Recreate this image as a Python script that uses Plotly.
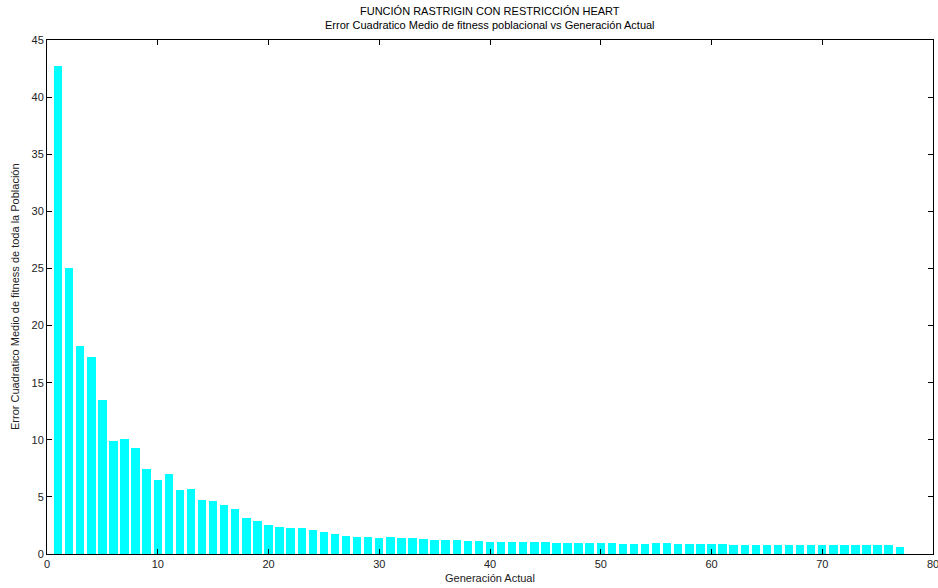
import plotly.graph_objects as go

# Mean squared error of population fitness per generation
generacion = list(range(1, 78))
error_cm = [
    42.76, 25.04, 18.2, 17.25, 13.5, 9.87, 10.04, 9.25, 7.47, 6.45,
    7.0, 5.63, 5.72, 4.7, 4.61, 4.29, 3.91, 3.18, 2.86, 2.54,
    2.38, 2.3, 2.25, 2.1, 1.93, 1.75, 1.6, 1.52, 1.52, 1.43,
    1.52, 1.43, 1.37, 1.28, 1.23, 1.23, 1.23, 1.14, 1.14, 1.08,
    1.08, 1.08, 1.08, 1.08, 1.08, 0.99, 0.99, 0.99, 0.99, 0.99,
    0.96, 0.88, 0.88, 0.88, 0.96, 0.96, 0.88, 0.88, 0.88, 0.88,
    0.88, 0.79, 0.79, 0.79, 0.79, 0.79, 0.79, 0.79, 0.79, 0.79,
    0.79, 0.79, 0.79, 0.79, 0.79, 0.79, 0.64,
]

titulo = "FUNCIÓN RASTRIGIN CON RESTRICCIÓN HEART"
subtitulo = "Error Cuadratico Medio de fitness poblacional vs Generación Actual"
etiqueta_x = "Generación Actual"
etiqueta_y = "Error Cuadratico Medio de fitness de toda la Población"

FONT = "Liberation Sans, Arial, sans-serif"

W, H = 938, 588
ML, MR, MT, MB = 47, 5, 40, 34
plot_h = H - MT - MB
plot_w = W - ML - MR

fig = go.Figure(
    go.Bar(
        x=generacion,
        y=error_cm,
        width=0.76,
        marker=dict(color="#00FFFF", line=dict(width=0)),
    )
)

axis_common = dict(
    showline=True,
    linecolor="#000000",
    linewidth=1,
    mirror="ticks",
    ticks="inside",
    ticklen=5,
    tickcolor="#000000",
    showgrid=False,
    zeroline=False,
    automargin=False,
    ticklabeloverflow="allow",
    tickfont=dict(family=FONT, size=11, color="#222222"),
)

fig.update_layout(
    width=W,
    height=H,
    margin=dict(l=ML, r=MR, t=MT, b=MB, autoexpand=False),
    paper_bgcolor="white",
    plot_bgcolor="white",
    showlegend=False,
    bargap=0,
    xaxis=dict(range=[0, 80], tick0=0, dtick=10, **axis_common),
    yaxis=dict(range=[0, 45], tick0=0, dtick=5, **axis_common),
    annotations=[
        dict(text=titulo, x=0.5, y=1 + (MT - 11) / plot_h, yanchor="middle",
             xref="paper", yref="paper", showarrow=False,
             font=dict(family=FONT, size=11, color="#000000")),
        dict(text=subtitulo, x=0.5, y=1 + (MT - 25) / plot_h, yanchor="middle",
             xref="paper", yref="paper", showarrow=False,
             font=dict(family=FONT, size=11, color="#000000")),
        dict(text=etiqueta_x, x=0.5, y=-(578 - (H - MB)) / plot_h, yanchor="middle",
             xref="paper", yref="paper", showarrow=False,
             font=dict(family=FONT, size=11, color="#222222")),
        dict(text=etiqueta_y, x=-(ML - 15) / plot_w, y=0.5, xanchor="center",
             xref="paper", yref="paper", showarrow=False, textangle=-90,
             font=dict(family=FONT, size=11, color="#222222")),
    ],
)

fig.write_html("out.html")
